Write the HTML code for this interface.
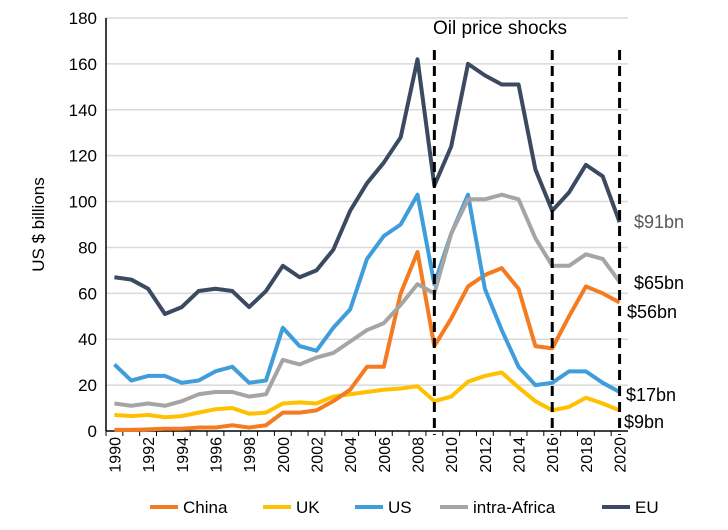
<!DOCTYPE html>
<html><head><meta charset="utf-8"><style>
body{margin:0;background:#fff;font-family:"Liberation Sans",sans-serif}
text{font-family:"Liberation Sans",sans-serif}
</style></head><body>
<svg id="c" width="728" height="525"></svg>
<script>
const years=[1990,1991,1992,1993,1994,1995,1996,1997,1998,1999,2000,2001,2002,2003,2004,2005,2006,2007,2008,2009,2010,2011,2012,2013,2014,2015,2016,2017,2018,2019,2020];
const euVals=[67,66,62,51,54,61,62,61,54,61,72,67,70,79,96,108,117,128,162,107,124,160,155,151,151,114,96,104,116,111,91];
const usVals=[29,22,24,24,21,22,26,28,21,22,45,37,35,45,53,75,85,90,103,64,86,103,62,44,28,20,21,26,26,21,17];
const afVals=[12,11,12,11,13,16,17,17,15,16,31,29,32,34,39,44,47,55,64,60,86,101,101,103,101,84,72,72,77,75,65];
const cnVals=[0.5,0.5,0.7,1,1,1.5,1.5,2.5,1.5,2.5,8,8,9,13,18,28,28,60,78,37,49,63,68,71,62,37,36,50,63,60,56];
const ukVals=[7,6.5,7,6,6.5,8,9.5,10,7.5,8,12,12.5,12,15,16,17,18,18.5,19.5,13,15,21.5,24,25.5,19,13,9,10.5,14.5,12,9];
const yTicks=[0,20,40,60,80,100,120,140,160,180];
const shockYears=[2009,2016,2020];
const endLabels=["$91bn","$65bn","$56bn","$17bn","$9bn"];
const NS="http://www.w3.org/2000/svg";
const svg=document.getElementById('c');
const L=106,R=628,T=18,B=431,ymax=180;
const cw=(R-L)/years.length;
const x=i=>L+(i+0.5)*cw;
const xy=yr=>x(years.indexOf(yr));
const y=v=>B-(v/ymax)*(B-T);
function mk(t,a){const e=document.createElementNS(NS,t);for(const k in a)e.setAttribute(k,a[k]);svg.appendChild(e);return e;}
yTicks.forEach(v=>{
 if(v>0){const g=mk('line',{x1:L,x2:R,y1:y(v),y2:y(v),stroke:'#d9d9d9','stroke-width':1.5});
 
 }
 const t=mk('text',{x:97,y:y(v)+6,'text-anchor':'end','font-size':17,fill:'#000'});t.textContent=v;
 
 
});
const ax=mk('line',{x1:L,x2:L,y1:T,y2:B,stroke:'#000','stroke-width':1.5});


const bx=mk('line',{x1:L,x2:R,y1:B,y2:B,stroke:'#000','stroke-width':1.5});


years.forEach((yr,i)=>{
 const tk=mk('line',{x1:L+i*cw,x2:L+i*cw,y1:B,y2:B+5,stroke:'#000','stroke-width':1});
 
 
 if(yr%2===0){const t=mk('text',{x:0,y:0,'text-anchor':'end','font-size':16,transform:`translate(${x(i)+6},${B+6}) rotate(-90)`});t.textContent=yr;
 
 }
});
const yl=mk('text',{x:0,y:0,'text-anchor':'middle','font-size':17,transform:`translate(44,${(T+B)/2}) rotate(-90)`});yl.textContent='US $ billions';


const series=[[ukVals,'#ffc000','uk-line'],[cnVals,'#f47b20','china-line'],[usVals,'#3f9ddb','us-line'],[afVals,'#a5a5a5','intra-africa-line'],[euVals,'#3b4a60','eu-line']];
series.forEach(([v,c,n])=>{
 const p=mk('polyline',{points:v.map((d,i)=>x(i)+','+y(d)).join(' '),fill:'none',stroke:c,'stroke-width':4,'stroke-linejoin':'round'});
 
 
});
shockYears.forEach(yr=>{
 const d=mk('line',{x1:xy(yr),x2:xy(yr),y1:50,y2:B+4,stroke:'#000','stroke-width':3,'stroke-dasharray':'10,6'});
 
 
});
const st=mk('text',{x:500,y:34,'text-anchor':'middle','font-size':19});st.textContent='Oil price shocks';


const lbl=[[endLabels[0],634,228,'#595959'],[endLabels[1],634,289,'#000'],[endLabels[2],627,318,'#000'],[endLabels[3],626,401,'#000'],[endLabels[4],624,428,'#000']];
lbl.forEach(([s,lx,ly,c])=>{const t=mk('text',{x:lx,y:ly,'font-size':18,fill:c});t.textContent=s;
 
 });
const leg=[['China','#f47b20',150],['UK','#ffc000',263],['US','#3f9ddb',355],['intra-Africa','#a5a5a5',440],['EU','#3b4a60',602]];
leg.forEach(([s,c,lx])=>{
 const l=mk('line',{x1:lx,x2:lx+28,y1:507,y2:507,stroke:c,'stroke-width':4});
 
 
 const t=mk('text',{x:lx+33,y:513,'font-size':17});t.textContent=s;
 
 
});
</script>
</body></html>
